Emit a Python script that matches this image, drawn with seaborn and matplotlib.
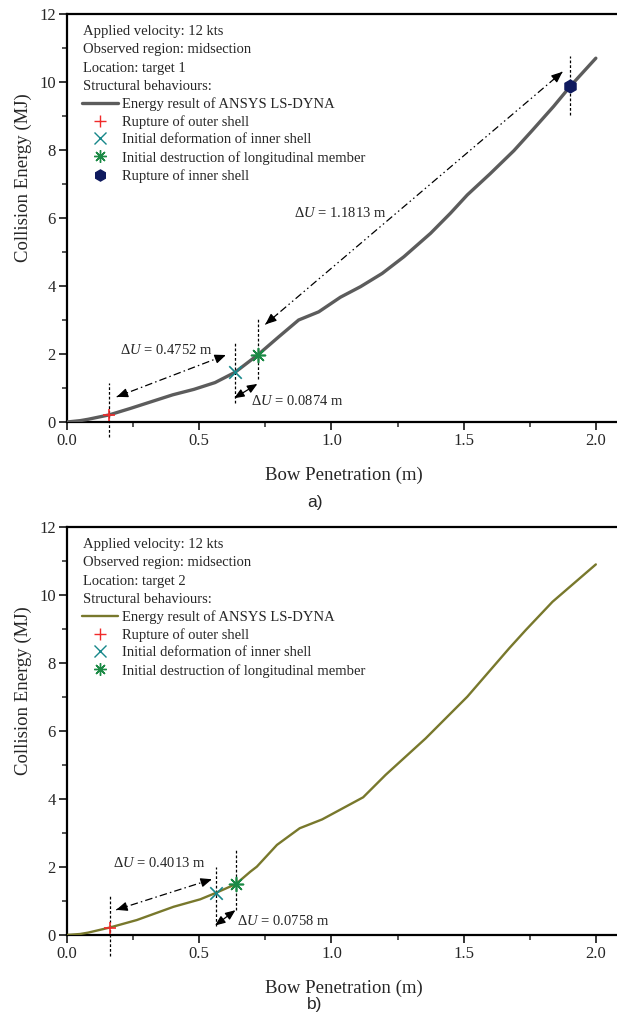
import matplotlib
matplotlib.use("Agg")
import matplotlib.pyplot as plt
from matplotlib.lines import Line2D
from matplotlib.ticker import MultipleLocator, FormatStrFormatter
import seaborn as sns
import pandas as pd

# Energy–penetration curve, target 1 (grey)
pen_t1 = [0.0, 0.05, 0.08, 0.16, 0.24, 0.32, 0.40, 0.48, 0.56, 0.6352, 0.7226,
          0.80, 0.876, 0.952, 1.034, 1.11, 1.192, 1.274, 1.375, 1.45, 1.514,
          1.60, 1.69, 1.76, 1.84, 1.9039, 2.0]
eng_t1 = [0.0, 0.04, 0.08, 0.21, 0.40, 0.60, 0.80, 0.96, 1.16, 1.46, 1.98,
          2.50, 3.00, 3.24, 3.67, 3.98, 4.37, 4.86, 5.55, 6.14, 6.68,
          7.30, 7.98, 8.58, 9.28, 9.88, 10.70]

# Energy–penetration curve, target 2 (olive)
pen_t2 = [0.0, 0.05, 0.08, 0.162, 0.264, 0.403, 0.504, 0.5633, 0.6391, 0.693,
          0.718, 0.794, 0.880, 0.965, 1.12, 1.205, 1.356, 1.514, 1.672, 1.735,
          1.836, 2.0]
eng_t2 = [0.0, 0.03, 0.07, 0.22, 0.44, 0.83, 1.05, 1.24, 1.50, 1.86,
          2.01, 2.65, 3.14, 3.40, 4.05, 4.71, 5.78, 7.01, 8.43, 8.97,
          9.80, 10.90]

# Structural events (penetration, energy)
event_names = ["Rupture of outer shell", "Initial deformation of inner shell",
               "Initial destruction of longitudinal member", "Rupture of inner shell"]
event_pen_t1 = [0.16, 0.6352, 0.7226, 1.9039]
event_eng_t1 = [0.21, 1.46, 1.98, 9.88]
event_pen_t2 = [0.162, 0.5633, 0.6391]
event_eng_t2 = [0.22, 1.24, 1.50]

header_t1 = ["Applied velocity: 12 kts", "Observed region: midsection",
             "Location: target 1", "Structural behaviours:"]
header_t2 = ["Applied velocity: 12 kts", "Observed region: midsection",
             "Location: target 2", "Structural behaviours:"]
curve_label = "Energy result of ANSYS LS-DYNA"

ev_markers = ["+", "x", (8, 2, 0), "h"]
ev_colors = ["#f02a2a", "#17878a", "#1b8a45", "#0f1a5e"]
ev_sizes = [9, 9, 10, 9]

sns.set_theme(style="ticks")
plt.rcParams["font.family"] = ["Liberation Serif", "DejaVu Serif"]
plt.rcParams["mathtext.fontset"] = "custom"
plt.rcParams["mathtext.rm"] = "Liberation Serif"
plt.rcParams["mathtext.it"] = "Liberation Serif:italic"

W, H = 617, 1025
fig = plt.figure(figsize=(W / 100, H / 100), dpi=100)


def ax_rect(top_px, bottom_px, left_px=67, right_px=617):
    return [left_px / W, 1 - bottom_px / H, (right_px - left_px) / W, (bottom_px - top_px) / H]


def style_axes(ax):
    ax.set_xlim(0, 2.08)
    ax.set_ylim(0, 12)
    ax.xaxis.set_major_locator(MultipleLocator(0.5))
    ax.xaxis.set_minor_locator(MultipleLocator(0.25))
    ax.yaxis.set_major_locator(MultipleLocator(2))
    ax.yaxis.set_minor_locator(MultipleLocator(1))
    ax.xaxis.set_major_formatter(FormatStrFormatter("%.1f"))
    ax.yaxis.set_major_formatter(FormatStrFormatter("%d"))
    ax.tick_params(which="major", direction="out", length=6, width=1.3, labelsize=12, pad=2)
    ax.tick_params(which="minor", direction="out", length=3.5, width=1.1)
    for s in ["left", "bottom", "top"]:
        ax.spines[s].set_linewidth(1.6)
        ax.spines[s].set_color("black")
    ax.spines["right"].set_visible(False)
    ax.set_xlabel("Bow Penetration (m)", fontsize=13.5)
    ax.set_ylabel("Collision Energy (MJ)", fontsize=13.5)
    ax.xaxis.set_label_coords(0.504, -0.110)
    ax.yaxis.set_label_coords(-0.064, 0.60)


def vmark(ax, x, y0, y1):
    ax.vlines(x, y0, y1, colors="black", linestyles=(0, (2.2, 1.6)), linewidth=0.9,
              clip_on=False, zorder=2)


HEAD = "head_length=0.6,head_width=0.25"


def double_arrow(ax, p0, p1, ls):
    if ls == "-":
        ax.annotate("", xy=p1, xytext=p0,
                    arrowprops=dict(arrowstyle="<|-|>," + HEAD, color="black", lw=0.9,
                                    shrinkA=0, shrinkB=0, mutation_scale=10))
        return
    ax.plot([p0[0], p1[0]], [p0[1], p1[1]], color="black", linewidth=0.9, linestyle=ls,
            zorder=3)
    for a, b in [(p0, p1), (p1, p0)]:
        # short solid stub at each end carries the filled arrow head
        base = (a[0] + 0.04 * (b[0] - a[0]), a[1] + 0.04 * (b[1] - a[1]))
        ax.annotate("", xy=a, xytext=base,
                    arrowprops=dict(arrowstyle="-|>," + HEAD, color="black", lw=0.9,
                                    shrinkA=0, shrinkB=0, mutation_scale=11))


def du_text(ax, x, y, d):
    ax.text(x, y, r"Δ$U$ = %.4f m" % d, fontsize=10.5, ha="left", va="center", zorder=4)


def header_and_legend(ax, lines, color, lw, n_events):
    ys = [0.956, 0.912, 0.867, 0.823]
    for t, y in zip(lines, ys):
        ax.text(0.0296, y, t, transform=ax.transAxes, fontsize=10.5, ha="left", va="center")
    handles = [Line2D([], [], color=color, linewidth=lw)]
    for i in range(n_events):
        handles.append(Line2D([], [], linestyle="none", marker=ev_markers[i],
                              color=ev_colors[i], markersize=ev_sizes[i] - 1,
                              markeredgewidth=1.0))
    labels = [curve_label] + event_names[:n_events]
    ax.legend(handles, labels, loc="upper left", bbox_to_anchor=(0.0267, 0.797),
              frameon=False, fontsize=10.5, handlelength=2.5, handletextpad=0.25,
              labelspacing=0.30, borderpad=0, borderaxespad=0)


def draw_events(ax, xs, ys):
    for i, (x, y) in enumerate(zip(xs, ys)):
        ev = pd.DataFrame({"pen": [x], "eng": [y]})
        sns.scatterplot(data=ev, x="pen", y="eng", ax=ax, marker=ev_markers[i],
                        color=ev_colors[i], s=ev_sizes[i] ** 2, linewidth=1.2,
                        edgecolor=ev_colors[i] if i == 3 else None, legend=False,
                        zorder=5)


# ---------------- a) target 1 ----------------
ax1 = fig.add_axes(ax_rect(14, 422))
df1 = pd.DataFrame({"pen": pen_t1, "eng": eng_t1})
sns.lineplot(data=df1, x="pen", y="eng", ax=ax1, color="#5c5c5c", linewidth=2.4,
             estimator=None, sort=False, zorder=4)
draw_events(ax1, event_pen_t1, event_eng_t1)
style_axes(ax1)
header_and_legend(ax1, header_t1, "#5c5c5c", 2.4, 4)

vmark(ax1, event_pen_t1[0], -0.44, 1.15)
vmark(ax1, event_pen_t1[1], 0.57, 2.33)
vmark(ax1, event_pen_t1[2], 1.26, 3.02)
vmark(ax1, event_pen_t1[3], 9.02, 10.76)

double_arrow(ax1, (0.188, 0.74), (0.601, 1.97), (0, (6, 2.5, 1.2, 2.5)))
double_arrow(ax1, (0.632, 0.70), (0.720, 1.12), "-")
double_arrow(ax1, (0.75, 2.87), (1.874, 10.30), (0, (6, 2.5, 1.2, 2.5, 1.2, 2.5)))
du_text(ax1, 0.20, 2.12, event_pen_t1[1] - event_pen_t1[0])
du_text(ax1, 0.696, 0.62, event_pen_t1[2] - event_pen_t1[1])
du_text(ax1, 0.857, 6.16, event_pen_t1[3] - event_pen_t1[2])

# ---------------- b) target 2 ----------------
ax2 = fig.add_axes(ax_rect(527, 935))
df2 = pd.DataFrame({"pen": pen_t2, "eng": eng_t2})
sns.lineplot(data=df2, x="pen", y="eng", ax=ax2, color="#78782c", linewidth=1.7,
             estimator=None, sort=False, zorder=4)
draw_events(ax2, event_pen_t2, event_eng_t2)
style_axes(ax2)
header_and_legend(ax2, header_t2, "#78782c", 1.7, 3)

vmark(ax2, event_pen_t2[0], -0.62, 1.15)
vmark(ax2, event_pen_t2[1], 0.26, 2.01)
vmark(ax2, event_pen_t2[2], 0.74, 2.50)

double_arrow(ax2, (0.186, 0.74), (0.548, 1.64), (0, (6, 2.5, 1.2, 2.5)))
double_arrow(ax2, (0.560, 0.28), (0.637, 0.73), "-")
du_text(ax2, 0.175, 2.11, event_pen_t2[1] - event_pen_t2[0])
du_text(ax2, 0.643, 0.42, event_pen_t2[2] - event_pen_t2[1])

fig.text(315 / W, 1 - 503 / H, "a)", fontsize=12.5, ha="center", va="center",
         family=["Liberation Sans", "DejaVu Sans"])
fig.text(315 / W, 1 - 1005 / H, "b)", fontsize=12.5, ha="center", va="center",
         family=["Liberation Sans", "DejaVu Sans"])

fig.savefig("out.png", dpi=100)
